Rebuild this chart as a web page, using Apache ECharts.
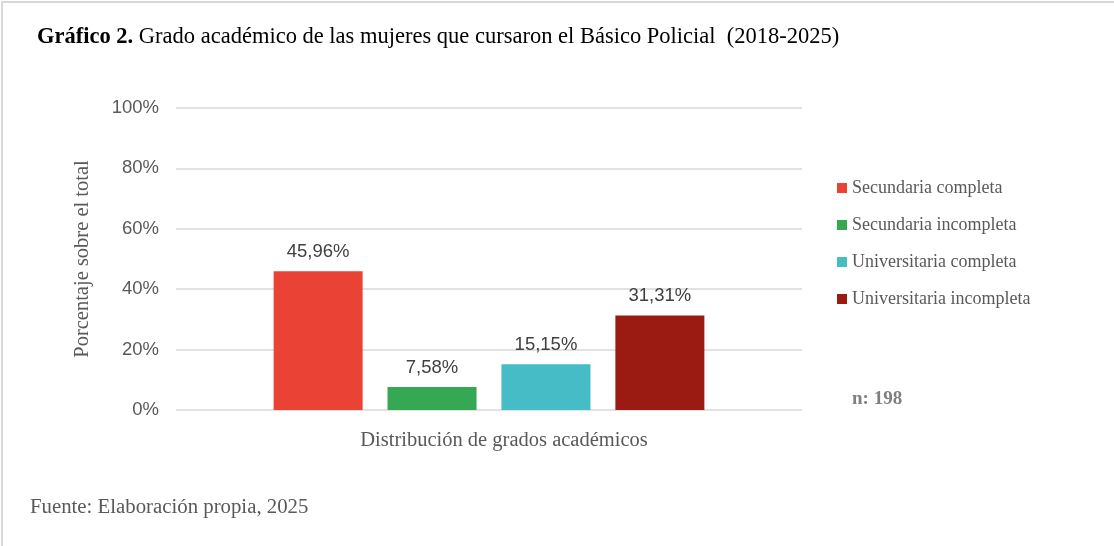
<!DOCTYPE html>
<html>
<head>
<meta charset="utf-8">
<script src="https://cdn.jsdelivr.net/npm/echarts@6/dist/echarts.min.js"></script>
<style>
  html, body { margin: 0; padding: 0; background: #fff; }
  #chart { width: 1114px; height: 546px; }
</style>
</head>
<body>
<div id="chart"></div>
<script>
// Academic level of the women who took the Basic Police course (2018-2025)
const categories = [''];
const seriesNames = [
  'Secundaria completa',
  'Secundaria incompleta',
  'Universitaria completa',
  'Universitaria incompleta'
];
const seriesValues = [45.96, 7.58, 15.15, 31.31];
const seriesColors = ['#EA4335', '#34A853', '#46BDC6', '#9B1B12'];
const yTicks = [0, 20, 40, 60, 80, 100];

const serif = '"Liberation Serif", "Times New Roman", serif';
const sans = '"Liberation Sans", Arial, sans-serif';

const fmtPct = v => v.toFixed(2).replace('.', ',') + '%';

const chart = echarts.init(document.getElementById('chart'), null, { renderer: 'canvas' });

chart.setOption({
  backgroundColor: '#ffffff',
  animation: false,
  title: {
    left: 32,
    top: 21,
    text: '{b|Gráfico 2.} {r|Grado académico de las mujeres que cursaron el Básico Policial  (2018-2025)}',
    textStyle: {
      fontWeight: 'normal',
      fontFamily: serif,
      fontSize: 22.5,
      color: '#000',
      rich: {
        b: { fontFamily: serif, fontSize: 22.5, fontWeight: 'bold', color: '#000' },
        r: { fontFamily: serif, fontSize: 22.5, fontWeight: 'normal', color: '#000' }
      }
    }
  },
  legend: {
    orient: 'vertical',
    left: 832,
    top: 174,
    itemWidth: 10,
    itemHeight: 10,
    itemGap: 19,
    icon: 'rect',
    textStyle: { fontFamily: serif, fontSize: 18, color: '#595959' },
    data: seriesNames
  },
  grid: { left: 176, right: 312, top: 108, bottom: 136, containLabel: false },
  xAxis: {
    type: 'category',
    data: categories,
    axisLine: { show: false },
    axisTick: { show: false },
    axisLabel: { show: false },
    name: 'Distribución de grados académicos',
    nameLocation: 'middle',
    nameGap: 20,
    nameTextStyle: { fontFamily: serif, fontSize: 20.5, color: '#595959', padding: [0, 0, 0, 30] }
  },
  yAxis: {
    type: 'value',
    min: yTicks[0],
    max: yTicks[yTicks.length - 1],
    interval: yTicks[1] - yTicks[0],
    axisLine: { show: false },
    axisTick: { show: false },
    axisLabel: {
      formatter: v => v + '%',
      fontFamily: sans,
      fontSize: 18.5,
      color: '#595959',
      margin: 17
    },
    splitLine: { lineStyle: { color: '#d9d9d9', width: 1.5 } },
    name: 'Porcentaje sobre el total',
    nameLocation: 'middle',
    nameGap: 83,
    nameRotate: 90,
    nameTextStyle: { fontFamily: serif, fontSize: 20.5, color: '#595959' }
  },
  series: seriesNames.map((name, i) => ({
    name: name,
    type: 'bar',
    data: [seriesValues[i]],
    barWidth: 89,
    barGap: '28%',
    itemStyle: { color: seriesColors[i] },
    label: {
      show: true,
      position: 'top',
      distance: 10,
      formatter: p => fmtPct(p.value),
      fontFamily: sans,
      fontSize: 18.5,
      color: '#404040'
    }
  })),
  graphic: [
    {
      type: 'rect',
      shape: { x: 2, y: 2, width: 1200, height: 700 },
      style: { fill: 'none', stroke: '#d9d9d9', lineWidth: 2 },
      silent: true
    },
    {
      type: 'text',
      left: 852,
      top: 390,
      style: { text: 'n: 198', font: 'bold 19px ' + serif, fill: '#7f7f7f' }
    },
    {
      type: 'text',
      left: 30,
      top: 497,
      style: { text: 'Fuente: Elaboración propia, 2025', font: '20.8px ' + serif, fill: '#595959' }
    }
  ]
});
</script>
</body>
</html>
